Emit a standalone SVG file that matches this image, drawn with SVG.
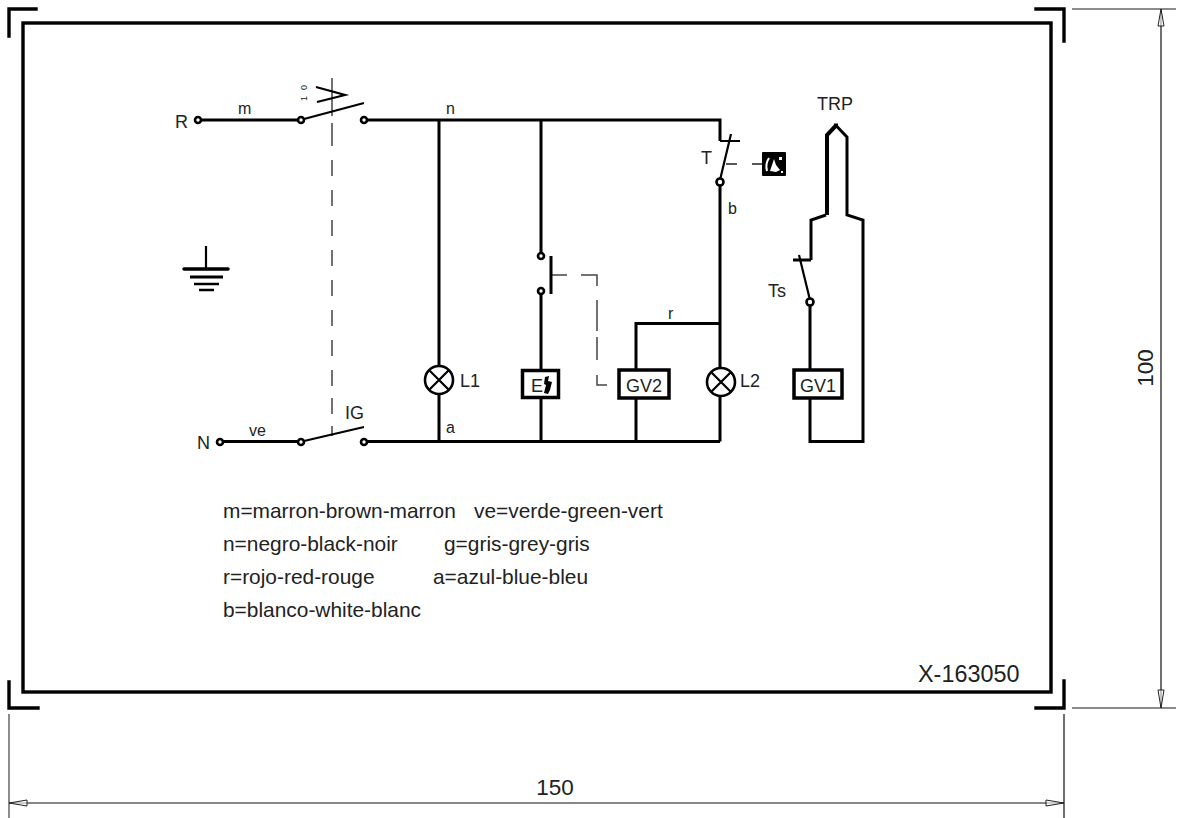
<svg xmlns="http://www.w3.org/2000/svg" width="1180" height="818" viewBox="0 0 1180 818">
<style>
text{font-family:"Liberation Sans",Arial,sans-serif;fill:#222}
.w{fill:none;stroke:#000;stroke-width:3;stroke-linejoin:miter}
.f{fill:none;stroke:#000;stroke-width:3.4;stroke-linecap:square}
.t{fill:#fff;stroke:#000;stroke-width:2.6}
.s{fill:none;stroke:#000;stroke-width:2.2}
.d{fill:none;stroke:#444;stroke-width:1.5}
.h{fill:none;stroke:#666;stroke-width:1.5}
.a{fill:#fff;fill-opacity:.6;stroke:#222;stroke-width:1}
.box{fill:#fff;stroke:#000;stroke-width:3.5}
.lab{font-size:18px}
.sm{font-size:16px}
.leg{font-size:20.9px}
.dim{font-size:22.5px}
</style>
<rect width="1180" height="818" fill="#fff"/>
<g id="frame">
<rect class="f" x="23" y="23" width="1028" height="669"/>
<path class="f" d="M9 36V9H36M1036 9H1064V41M1064 681V708H1036M38 708H9V682"/>
</g>
<g id="dimensions">
<path class="h" d="M1072 9H1176M1072 708H1176M9 714V818"/>
<path d="M1161 9V708M9 803H1064M1064 714V818" fill="none" stroke="#111" stroke-width="1.2"/>
<path class="a" d="M1161 9L1164 26H1158ZM1161 708L1164 690H1158ZM9 803L27 800V806ZM1064 803L1046 800V806Z"/>
<text class="dim" x="555" y="795" text-anchor="middle">150</text>
<text class="dim" transform="translate(1153 368) rotate(-90)" text-anchor="middle">100</text>
</g>
<g id="connectors">
<path class="w" d="M201 120H298M367 120H720V141M439 120V366M541 120V253M720 185V368M720 396V441.500M222 441.500H298M367 441.500H720M439 394V441M541 294V370M541 397V441M636 370V323.500H720M636 398V441M810 305V369M810 398V441.500H863V220L847 215V137L836 125.500M811 260V220L826 215M811 260H793"/>
<path d="M827 215V135L836 125.500" fill="none" stroke="#000" stroke-width="4"/>
<path class="d" d="M332 78V116M332 123V146M332 160V176M332 190V206M332 220V236M332 250V266M332 280V296M332 310V326M332 340V356M332 370V386M332 398V414M332 426V436"/>
<path class="d" d="M552 275H567M581 275H597V286M597 300V331M597 337V360M597 375V385H607"/>
</g>
<g id="switch-ig">
<path class="s" d="M304 119L364 103M316 87L345 95L317 102M304 441L364 427"/>
<circle class="t" cx="301" cy="120" r="3"/><circle class="t" cx="364" cy="120" r="3"/>
<circle class="t" cx="301" cy="442" r="3"/><circle class="t" cx="364" cy="442" r="3"/>
<text font-size="9" transform="translate(307 90) rotate(-90)">0</text>
<text font-size="9" transform="translate(307 101) rotate(-90)">1</text>
<text class="lab" x="345" y="419">IG</text>
</g>
<g id="terminal-r"><circle class="t" cx="198" cy="120" r="3"/><text class="lab" x="175" y="128">R</text><text class="sm" x="238" y="114">m</text><text class="sm" x="446" y="114">n</text></g>
<g id="terminal-n"><circle class="t" cx="220" cy="442" r="3"/><text class="lab" x="197" y="449">N</text><text class="sm" x="249" y="436">ve</text></g>
<g id="ground"><path d="M206 246V268" class="s"/><path d="M184 269H228" stroke="#000" stroke-width="3.500" stroke-linecap="round"/><path d="M190 277H223" stroke="#000" stroke-width="3"/><path d="M194 284H219" stroke="#000" stroke-width="2.500"/><path d="M199 290H214" stroke="#000" stroke-width="2.500"/></g>
<g id="l1"><circle class="t" cx="439" cy="380" r="14" stroke-width="3"/><path class="s" stroke-width="2.500" d="M429 370L449 390M449 370L429 390"/><text class="lab" x="460" y="387">L1</text><text class="sm" x="446" y="433">a</text></g>
<g id="pushbutton"><circle class="t" cx="541" cy="256" r="3"/><circle class="t" cx="541" cy="291" r="3"/><path d="M551 256V294" stroke="#000" stroke-width="3"/></g>
<g id="e"><rect class="box" x="522.500" y="370.500" width="36" height="27"/><text class="lab" x="531" y="392">E</text><path d="M545 377L549 376L548 381L552 382L550 390L548 394L544 393L546 385L544 384Z" fill="#000"/></g>
<g id="gv2"><rect class="box" x="619" y="370" width="50" height="28"/><text class="lab" x="644" y="392" text-anchor="middle">GV2</text><text class="sm" x="668" y="319">r</text></g>
<g id="l2"><circle class="t" cx="721" cy="382" r="14" stroke-width="3"/><path class="s" stroke-width="2.500" d="M711 372L731 392M731 372L711 392"/><text class="lab" x="740" y="387">L2</text></g>
<g id="gv1"><rect class="box" x="794" y="370" width="48" height="28"/><text class="lab" x="818" y="392" text-anchor="middle">GV1</text></g>
<g id="thermostat-t">
<path class="s" d="M720 141H740M731 134L720 180"/>
<path d="M726 164H737M752 164H764" fill="none" stroke="#222" stroke-width="1.4"/>
<circle class="t" cx="720" cy="182" r="3.500"/>
<rect x="762" y="152" width="24" height="24" rx="1" fill="#000"/>
<path d="M769 158Q765 164 767 171" fill="none" stroke="#fff" stroke-width="2"/>
<path d="M774 159L776 165L780 170L776 172L770 171L772 165Z" fill="#fff"/>
<rect x="779" y="157" width="3" height="3" fill="#fff"/><rect x="781" y="171" width="2" height="2" fill="#fff"/>
<text class="lab" x="701" y="164">T</text><text class="sm" x="728" y="214">b</text>
</g>
<g id="ts"><path class="s" d="M799 255L810 300"/><circle class="t" cx="810" cy="302" r="3.500"/><text class="lab" x="768" y="297">Ts</text></g>
<g id="trp"><rect x="834" y="123.500" width="4" height="4" fill="#000"/><text class="lab" x="817" y="110">TRP</text></g>
<g id="legend">
<text class="leg" x="223" y="518">m=marron-brown-marron</text><text class="leg" x="474" y="518">ve=verde-green-vert</text>
<text class="leg" x="223" y="551">n=negro-black-noir</text><text class="leg" x="444" y="551">g=gris-grey-gris</text>
<text class="leg" x="223" y="584">r=rojo-red-rouge</text><text class="leg" x="433" y="584">a=azul-blue-bleu</text>
<text class="leg" x="223" y="617">b=blanco-white-blanc</text>
</g>
<g id="code"><text x="918" y="682" font-size="23.4">X-163050</text></g>
</svg>
